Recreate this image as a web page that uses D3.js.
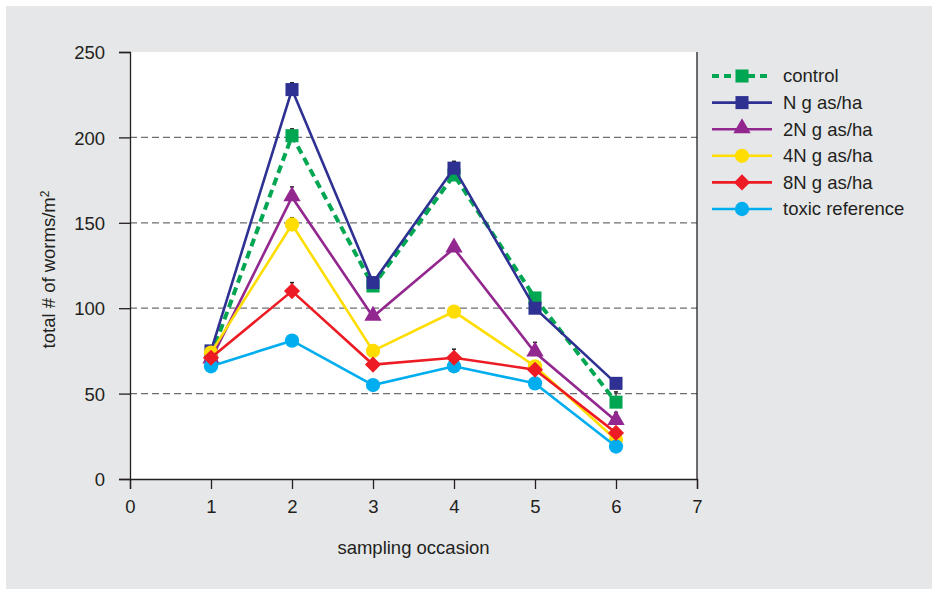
<!DOCTYPE html>
<html>
<head>
<meta charset="utf-8">
<script src="https://cdn.jsdelivr.net/npm/d3@7"></script>
<style>
  html, body { margin: 0; padding: 0; background: #ffffff; }
  svg { display: block; font-family: "Liberation Sans", Arial, sans-serif; }
</style>
</head>
<body>
<svg id="chart" width="938" height="590"></svg>
<script>
// Sampling occasions and worm counts (total # of worms/m²) per treatment
const occasions = [1, 2, 3, 4, 5, 6];
const xTicks = [0, 1, 2, 3, 4, 5, 6, 7];
const yTicks = [0, 50, 100, 150, 200, 250];
const gridValues = [50, 100, 150, 200];

const seriesNames = ["control", "N g as/ha", "2N g as/ha", "4N g as/ha", "8N g as/ha", "toxic reference"];
const controlVals = [72, 201, 113, 178, 106, 45];
const nVals       = [75, 228, 115, 182, 100, 56];
const n2Vals      = [70, 165, 95, 135, 74, 34];
const n4Vals      = [74, 149, 75, 98, 66, 23];
const n8Vals      = [71, 110, 67, 71, 64, 27];
const toxicVals   = [66, 81, 55, 66, 56, 19];

// standard errors, drawn as plus-direction bars above each point
const controlErr = [3, 4, 3, 4, 3, 6];
const nErr       = [3, 4, 3, 4, 3, 3];
const n2Err      = [3, 6, 4, 3, 6, 5];
const n4Err      = [3, 4, 3, 3, 3, 3];
const n8Err      = [3, 5, 3, 5, 3, 3];
const toxicErr   = [3, 3, 3, 3, 3, 3];

const colors  = ["#00a651", "#2e3192", "#92278f", "#ffdd00", "#ed1c24", "#00aeef"];
const symbols = ["square", "square", "triangle", "circle", "diamond", "circle"];

const series = seriesNames.map((name, i) => ({
  name,
  color: colors[i],
  symbol: symbols[i],
  dashed: i === 0,
  values: [controlVals, nVals, n2Vals, n4Vals, n8Vals, toxicVals][i],
  errs: [controlErr, nErr, n2Err, n4Err, n8Err, toxicErr][i]
}));

const FONT = "18.5px";
const svg = d3.select("#chart");

// grey panel
svg.append("rect")
  .attr("x", 6).attr("y", 6).attr("width", 926).attr("height", 583)
  .attr("fill", "#e6e7e9");

const plotLeft = 130, plotRight = 697, plotTop = 52, plotBottom = 479;
const x = d3.scaleLinear().domain([0, 7]).range([plotLeft, plotRight]);
const y = d3.scaleLinear().domain([0, 250]).range([plotBottom, plotTop]);

// white plotting area
svg.append("rect")
  .attr("x", plotLeft).attr("y", plotTop)
  .attr("width", plotRight - plotLeft).attr("height", plotBottom - plotTop)
  .attr("fill", "#ffffff");

// dashed gridlines
svg.append("g").selectAll("line").data(gridValues).join("line")
  .attr("x1", plotLeft).attr("x2", plotRight)
  .attr("y1", d => y(d)).attr("y2", d => y(d))
  .attr("stroke", "#6d6e71").attr("stroke-width", 1.3)
  .attr("stroke-dasharray", "7,4");

// right border of the plot
svg.append("line")
  .attr("x1", plotRight).attr("x2", plotRight).attr("y1", plotTop).attr("y2", plotBottom)
  .attr("stroke", "#231f20").attr("stroke-width", 1.3);

// axes
const yAxis = svg.append("g")
  .attr("transform", `translate(${plotLeft},0)`)
  .call(d3.axisLeft(y).tickValues(yTicks).tickSize(11).tickPadding(14).tickFormat(d3.format("d")));
const xAxis = svg.append("g")
  .attr("transform", `translate(0,${plotBottom})`)
  .call(d3.axisBottom(x).tickValues(xTicks).tickSize(10).tickPadding(11).tickFormat(d3.format("d")));

[yAxis, xAxis].forEach(g => {
  g.select(".domain").attr("stroke", "#231f20").attr("stroke-width", 1.3);
  g.selectAll(".tick line").attr("stroke", "#231f20").attr("stroke-width", 1.3);
  g.selectAll(".tick text")
    .attr("fill", "#231f20")
    .style("font-size", FONT)
    .style("font-family", "'Liberation Sans', Arial, sans-serif");
});
yAxis.selectAll(".tick text").attr("dy", "0.36em");

// axis titles
svg.append("text")
  .attr("x", (plotLeft + plotRight) / 2).attr("y", 554)
  .attr("text-anchor", "middle")
  .attr("fill", "#231f20").style("font-size", FONT)
  .text("sampling occasion");

const yTitle = svg.append("text")
  .attr("transform", `translate(55,${(plotTop + plotBottom) / 2 + 4}) rotate(-90)`)
  .attr("text-anchor", "middle")
  .attr("fill", "#231f20").style("font-size", FONT);
yTitle.append("tspan").text("total # of worms/m");
yTitle.append("tspan").attr("dy", "-0.5em").style("font-size", "12px").text("2");

// marker generator
const symbolType = {
  square: d3.symbolSquare,
  triangle: d3.symbolTriangle,
  circle: d3.symbolCircle,
  diamond: d3.symbolSquare
};
const symbolSize = { square: 170, triangle: 130, circle: 160, diamond: 130 };

function drawMarker(g, s, cx, cy) {
  const p = g.append("path")
    .attr("d", d3.symbol().type(symbolType[s.symbol]).size(symbolSize[s.symbol])())
    .attr("fill", s.color);
  if (s.symbol === "diamond") {
    p.attr("transform", `translate(${cx},${cy}) rotate(45)`);
  } else if (s.symbol === "triangle") {
    p.attr("transform", `translate(${cx},${cy - 1})`);
  } else {
    p.attr("transform", `translate(${cx},${cy})`);
  }
}

const line = d3.line().x((d, i) => x(occasions[i])).y(d => y(d));

// error bars (plus direction)
const errG = svg.append("g");
series.forEach(s => {
  s.values.forEach((v, i) => {
    const cx = x(occasions[i]);
    const e = s.errs[i];
    errG.append("line")
      .attr("x1", cx).attr("x2", cx).attr("y1", y(v)).attr("y2", y(v + e))
      .attr("stroke", "#231f20").attr("stroke-width", 1.2);
    errG.append("line")
      .attr("x1", cx - 2).attr("x2", cx + 2).attr("y1", y(v + e)).attr("y2", y(v + e))
      .attr("stroke", "#231f20").attr("stroke-width", 1.5);
  });
});

// series lines and markers
const drawOrder = [0, 1, 2, 3, 5, 4];
drawOrder.forEach(k => {
  const s = series[k];
  const g = svg.append("g");
  g.append("path")
    .datum(s.values)
    .attr("d", line)
    .attr("fill", "none")
    .attr("stroke", s.color)
    .attr("stroke-width", s.dashed ? 4 : 2.6)
    .attr("stroke-dasharray", s.dashed ? "8,5" : null);
  s.values.forEach((v, i) => drawMarker(g, s, x(occasions[i]), y(v)));
});

// legend
const legend = svg.append("g");
const rowY = d => 76 + d * 26.6;
series.forEach((s, i) => {
  const cy = rowY(i);
  const g = legend.append("g");
  g.append("line")
    .attr("x1", 712).attr("x2", 772).attr("y1", cy).attr("y2", cy)
    .attr("stroke", s.color)
    .attr("stroke-width", s.dashed ? 4 : 2.6)
    .attr("stroke-dasharray", s.dashed ? "7,5" : null);
  drawMarker(g, s, 742, cy);
  g.append("text")
    .attr("x", 783).attr("y", cy).attr("dy", "0.35em")
    .attr("fill", "#231f20").style("font-size", FONT)
    .text(s.name);
});
</script>
</body>
</html>
